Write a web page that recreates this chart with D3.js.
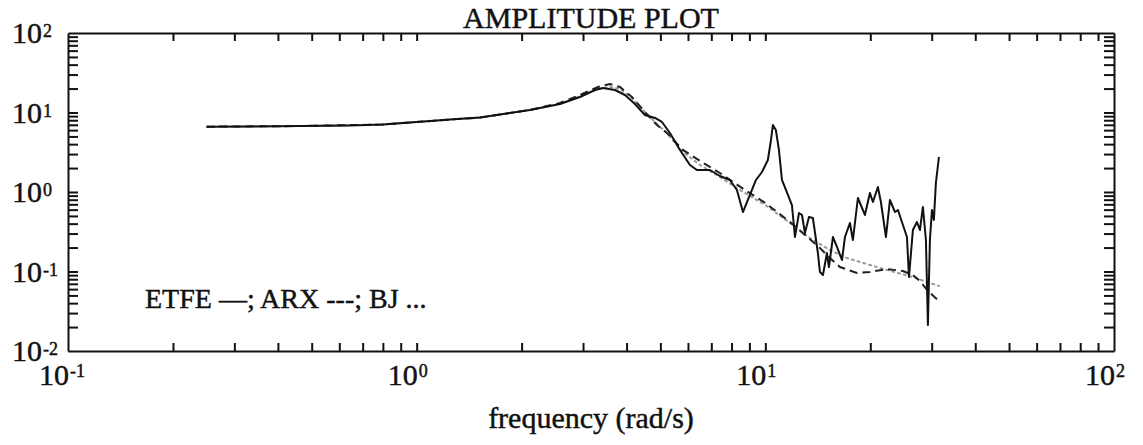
<!DOCTYPE html>
<html>
<head>
<meta charset="utf-8">
<script src="https://cdn.jsdelivr.net/npm/d3@7"></script>
<style>
  html, body { margin: 0; padding: 0; background: #fff; }
  svg { display: block; font-family: "Liberation Serif", "Times New Roman", serif; }
  text { stroke: #111; stroke-width: 0.45px; }
</style>
</head>
<body>
<svg id="chart" width="1143" height="445"></svg>
<script>
// ---- data ----
const title = "AMPLITUDE PLOT";
const xLabel = "frequency (rad/s)";
const legendText = "ETFE \u2014; ARX ---; BJ ...";

const xDecades = [0.1, 1, 10, 100];
const xDecadeExps = ["-1", "0", "1", "2"];
const yDecades = [0.01, 0.1, 1, 10, 100];
const yDecadeExps = ["-2", "-1", "0", "1", "2"];

const etfeFreq = [0.25, 0.333, 0.463, 0.644, 0.8, 1.0, 1.246, 1.519, 1.852, 2.113, 2.576, 2.94, 3.246, 3.422, 3.704, 3.957, 4.227, 4.515, 4.825, 5.053, 5.326, 5.69, 6.078, 6.365, 6.937, 7.409, 7.913, 8.289, 8.626, 9.032, 9.4, 9.779, 10.17, 10.38, 10.51, 10.72, 10.94, 11.16, 11.61, 11.92, 12.16, 12.49, 12.74, 12.99, 13.34, 13.69, 14.15, 14.34, 14.63, 15.02, 15.22, 15.63, 16.05, 16.59, 16.92, 17.48, 17.83, 18.43, 19.3, 19.95, 20.35, 21.03, 21.45, 22.18, 22.77, 23.54, 24.01, 24.81, 25.48, 25.82, 26.5, 27.21, 27.76, 28.31, 28.88, 29.26, 29.65, 30.05, 30.44, 30.84, 31.47];
const etfeAmp = [6.63, 6.67, 6.76, 6.86, 7.06, 7.6, 8.17, 8.65, 9.86, 10.75, 12.79, 15.67, 19.19, 20.33, 19.19, 16.6, 12.79, 9.3, 8.53, 7.6, 5.52, 3.38, 2.186, 1.891, 1.891, 1.59, 1.416, 1.06, 0.56, 0.917, 1.416, 1.785, 2.527, 4.51, 6.96, 6.025, 3.38, 1.416, 0.917, 0.686, 0.2716, 0.544, 0.514, 0.305, 0.485, 0.471, 0.1709, 0.0986, 0.0904, 0.1709, 0.1139, 0.2716, 0.2034, 0.1395, 0.2716, 0.4075, 0.249, 0.8404, 0.514, 0.971, 0.7485, 1.156, 0.7485, 0.2716, 0.793, 0.56, 0.594, 0.3846, 0.2716, 0.0852, 0.3327, 0.4195, 0.3327, 0.6477, 0.249, 0.0212, 0.249, 0.594, 0.4444, 1.298, 2.756];

const arxFreq = [0.25, 0.463, 0.8, 1.0, 1.519, 2.113, 2.576, 2.94, 3.311, 3.584, 3.828, 4.144, 4.515, 4.888, 5.222, 5.802, 6.5, 7.409, 8.74, 10.0, 11.77, 12.99, 14.34, 15.32, 16.37, 18.31, 19.95, 22.33, 24.81, 26.5, 27.76, 29.26, 31.47];
const arxAmp = [6.63, 6.76, 7.06, 7.6, 8.65, 10.75, 13.16, 16.6, 20.93, 22.83, 20.93, 15.67, 10.15, 6.96, 5.52, 3.38, 2.455, 1.734, 1.06, 0.727, 0.4195, 0.2877, 0.1975, 0.1478, 0.1139, 0.0957, 0.0986, 0.1075, 0.1015, 0.0904, 0.076, 0.0569, 0.0426];

const bjFreq = [0.25, 0.463, 0.8, 1.0, 1.519, 2.113, 2.576, 2.94, 3.311, 3.584, 3.828, 4.144, 4.515, 4.888, 5.222, 5.802, 6.5, 7.409, 8.456, 10.0, 11.77, 13.43, 15.32, 17.14, 18.68, 22.33, 26.5, 29.65, 31.47];
const bjAmp = [6.63, 6.76, 7.06, 7.6, 8.65, 10.75, 12.79, 16.12, 19.75, 20.93, 19.75, 15.22, 10.15, 7.17, 5.52, 3.185, 2.186, 1.544, 1.06, 0.686, 0.4075, 0.2639, 0.1864, 0.1478, 0.1317, 0.1044, 0.0852, 0.0717, 0.0657];

// ---- layout ----
const svg = d3.select("#chart");
const L = 68, R = 1114, T = 33, B = 351;
const x = d3.scaleLog().domain([0.1, 100]).range([L, R]);
const y = d3.scaleLog().domain([0.01, 100]).range([B, T]);

const xMinor = x.ticks().filter(v => v > 0.1 * 1.0001 && v < 100 * 0.9999);
const yMinor = y.ticks().filter(v => v > 0.01 * 1.0001 && v < 100 * 0.9999);

function styleAxis(g) {
  g.selectAll(".domain").attr("stroke", "#111").attr("stroke-width", 2);
  g.selectAll(".tick line").attr("stroke", "#111").attr("stroke-width", 2);
  g.selectAll(".tick text").remove();
}

svg.append("g").attr("transform", `translate(0,${B})`)
  .call(d3.axisBottom(x).tickValues(xMinor).tickSize(-8).tickSizeOuter(0).tickFormat(""))
  .call(styleAxis);
svg.append("g").attr("transform", `translate(0,${T})`)
  .call(d3.axisTop(x).tickValues(xMinor).tickSize(-8).tickSizeOuter(0).tickFormat(""))
  .call(styleAxis);
svg.append("g").attr("transform", `translate(${L},0)`)
  .call(d3.axisLeft(y).tickValues(yMinor).tickSize(-10).tickSizeOuter(0).tickFormat(""))
  .call(styleAxis);
svg.append("g").attr("transform", `translate(${R},0)`)
  .call(d3.axisRight(y).tickValues(yMinor).tickSize(-10).tickSizeOuter(0).tickFormat(""))
  .call(styleAxis);

// ---- tick labels ----
const base = 30, sup = 18;
xDecades.forEach((v, i) => {
  const px = x(v);
  svg.append("text").attr("x", px + 1).attr("y", 385).attr("text-anchor", "end")
    .attr("font-size", base).attr("fill", "#111").text("10");
  svg.append("text").attr("x", px + 2).attr("y", 377).attr("text-anchor", "start")
    .attr("font-size", sup).attr("fill", "#111").text(xDecadeExps[i]);
});
yDecades.forEach((v, i) => {
  const py = y(v);
  svg.append("text").attr("x", 42).attr("y", py + 10).attr("text-anchor", "end")
    .attr("font-size", base).attr("fill", "#111").text("10");
  svg.append("text").attr("x", 43).attr("y", py + 4).attr("text-anchor", "start")
    .attr("font-size", sup).attr("fill", "#111").text(yDecadeExps[i]);
});

// ---- titles ----
svg.append("text").attr("x", (L + R) / 2).attr("y", 28).attr("text-anchor", "middle")
  .attr("font-size", 30).attr("fill", "#111").text(title);
svg.append("text").attr("x", (L + R) / 2).attr("y", 428).attr("text-anchor", "middle")
  .attr("font-size", 30).attr("fill", "#111").text(xLabel);
svg.append("text").attr("x", 145).attr("y", 308).attr("text-anchor", "start")
  .attr("font-size", 28).attr("fill", "#111").text(legendText);

// ---- curves ----
const line = d3.line().x(d => x(d[0])).y(d => y(d[1])).curve(d3.curveLinear);
const zip = (a, b) => a.map((v, i) => [v, b[i]]);

svg.append("path").datum(zip(bjFreq, bjAmp)).attr("d", line)
  .attr("fill", "none").attr("stroke", "#999").attr("stroke-width", 2)
  .attr("stroke-dasharray", "2,4").attr("stroke-linecap", "round");
svg.append("path").datum(zip(arxFreq, arxAmp)).attr("d", line)
  .attr("fill", "none").attr("stroke", "#222").attr("stroke-width", 2)
  .attr("stroke-dasharray", "8,5");
svg.append("path").datum(zip(etfeFreq, etfeAmp)).attr("d", line)
  .attr("fill", "none").attr("stroke", "#111").attr("stroke-width", 2)
  .attr("stroke-linejoin", "round");
</script>
</body>
</html>
